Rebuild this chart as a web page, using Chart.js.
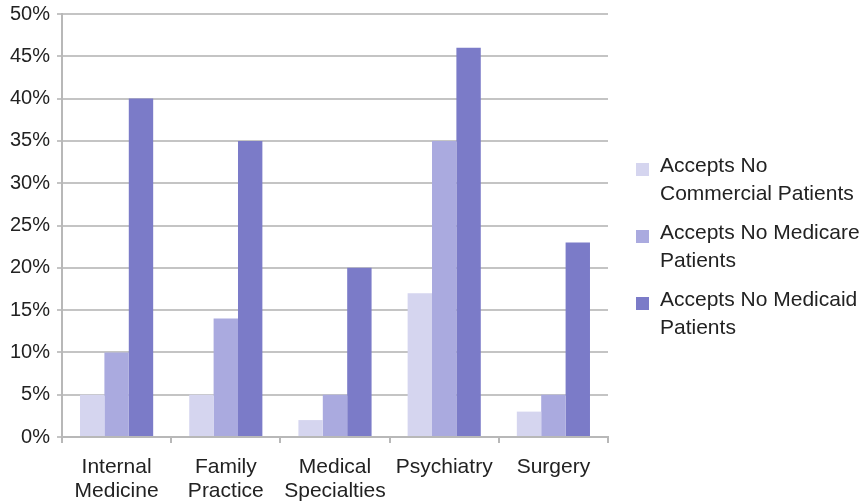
<!DOCTYPE html>
<html>
<head>
<meta charset="utf-8">
<script src="https://cdn.jsdelivr.net/npm/chart.js@4/dist/chart.umd.min.js"></script>
<style>
  html, body { margin: 0; padding: 0; background: #fff; }
  #wrap { position: relative; width: 865px; height: 503px; }
  #legend { position: absolute; left: 636px; top: 151px; font-family: "Liberation Sans", Arial, sans-serif; font-size: 21px; color: #222; }
  .item { position: relative; padding-left: 24px; line-height: 27.5px; margin-bottom: 12px; white-space: nowrap; }
  .box { position: absolute; left: 0; top: 12px; width: 13px; height: 13px; }
</style>
</head>
<body>
<div id="wrap">
  <canvas id="chart" width="865" height="503"></canvas>
  <div id="legend"></div>
</div>
<script>
// Specialties along the x axis (two-line labels)
const specialties = [
    ['Internal', 'Medicine'],
    ['Family', 'Practice'],
    ['Medical', 'Specialties'],
    ['Psychiatry'],
    ['Surgery']
];

// Share of physicians (%) by payer type
const noCommercial = [5, 5, 2, 17, 3];
const noMedicare = [10, 14, 5, 35, 5];
const noMedicaid = [40, 35, 20, 46, 23];

const seriesNames = [
    ['Accepts No', 'Commercial Patients'],
    ['Accepts No Medicare', 'Patients'],
    ['Accepts No Medicaid', 'Patients']
];
const seriesColors = ['#d5d5ef', '#aaaadf', '#7b7bc8'];

const yTicks = [0, 5, 10, 15, 20, 25, 30, 35, 40, 45, 50];

const fontFamily = '"Liberation Sans", Arial, sans-serif';

const ctx = document.getElementById('chart');

new Chart(ctx, {
    type: 'bar',
    data: {
        labels: specialties,
        datasets: [noCommercial, noMedicare, noMedicaid].map((values, i) => ({
            label: seriesNames[i].join(' '),
            data: values,
            backgroundColor: seriesColors[i],
            borderWidth: 0,
            categoryPercentage: 0.67,
            barPercentage: 1.0
        }))
    },
    options: {
        responsive: false,
        animation: false,
        layout: { padding: { top: 14, right: 257, left: 0, bottom: 0 } },
        plugins: {
            legend: { display: false },
            tooltip: { enabled: false }
        },
        scales: {
            x: {
                grid: {
                    offset: true,
                    drawOnChartArea: false,
                    drawTicks: true,
                    tickLength: 6,
                    color: '#b8b8b8',
                    lineWidth: 2
                },
                border: { color: '#b8b8b8', width: 2 },
                ticks: {
                    color: '#222',
                    font: { family: fontFamily, size: 21, lineHeight: 1.15 },
                    padding: 12,
                    maxRotation: 0,
                    autoSkip: false
                },
                afterFit: (scale) => { scale.height = 66; }
            },
            y: {
                min: 0,
                max: 50,
                afterBuildTicks: (scale) => {
                    scale.ticks = yTicks.map(v => ({ value: v }));
                },
                grid: {
                    color: '#c4c4c4',
                    lineWidth: 2,
                    tickLength: 5
                },
                border: { color: '#b8b8b8', width: 2 },
                ticks: {
                    color: '#222',
                    font: { family: fontFamily, size: 20 },
                    padding: 7,
                    callback: (v) => v + '%'
                },
                afterFit: (scale) => {
                    scale.width = 62;
                    scale.paddingTop = 0;
                    scale.paddingBottom = 0;
                }
            }
        }
    }
});

// Legend on the right side, one entry per series
const legend = document.getElementById('legend');
seriesNames.forEach((lines, i) => {
    const item = document.createElement('div');
    item.className = 'item';
    item.innerHTML = '<span class="box" style="background:' + seriesColors[i] + '"></span>' + lines.join('<br>');
    legend.appendChild(item);
});
</script>
</body>
</html>
